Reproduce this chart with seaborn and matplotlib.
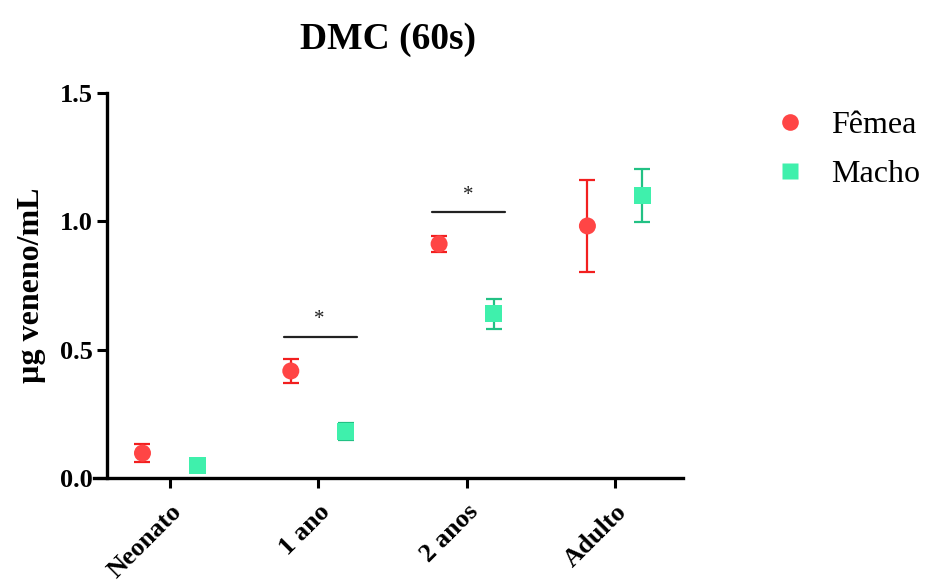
import matplotlib
matplotlib.use("Agg")
import matplotlib.pyplot as plt
import seaborn as sns
import pandas as pd
from matplotlib.lines import Line2D

sns.set_style("ticks")
plt.rcParams["font.family"] = ["Liberation Serif", "DejaVu Serif"]
plt.rcParams["text.color"] = "black"
plt.rcParams["axes.labelcolor"] = "black"
plt.rcParams["xtick.color"] = "black"
plt.rcParams["ytick.color"] = "black"

# Data: mean venom concentration ± SEM per age group
categories = ["Neonato", "1 ano", "2 anos", "Adulto"]
femea_mean = [0.097, 0.417, 0.912, 0.982]
femea_err = [0.036, 0.045, 0.032, 0.180]
macho_mean = [0.050, 0.180, 0.639, 1.100]
macho_err = [0.010, 0.033, 0.057, 0.103]
groups = ["Fêmea", "Macho"]
sig_pairs = ["1 ano", "2 anos"]

fem_color = "#FF4545"
fem_err_color = "#F21F1F"
mac_color = "#3FF0AC"
mac_err_color = "#22C184"
offset = 0.185

rows = []
for i, c in enumerate(categories):
    rows.append({"pos": i - offset, "value": femea_mean[i], "err": femea_err[i], "sexo": groups[0]})
    rows.append({"pos": i + offset, "value": macho_mean[i], "err": macho_err[i], "sexo": groups[1]})
df = pd.DataFrame(rows)

fig = plt.figure(figsize=(9.26, 5.86), dpi=100)
ax = fig.add_axes([0.1015, 0.1843, 0.636, 0.657])

# error bars drawn under the markers
for g, ecol in zip(groups, [fem_err_color, mac_err_color]):
    sub = df[df["sexo"] == g]
    ax.errorbar(sub["pos"], sub["value"], yerr=sub["err"], fmt="none",
                ecolor=ecol, elinewidth=1.6, capsize=6, capthick=1.6, zorder=2)

sns.scatterplot(data=df, x="pos", y="value", hue="sexo", style="sexo",
                palette={groups[0]: fem_color, groups[1]: mac_color},
                markers={groups[0]: "o", groups[1]: "s"},
                s=150, linewidth=0, legend=False, ax=ax, zorder=3)

# axis styling (spine offset first, it resets the tick formatting)
for side in ["top", "right"]:
    ax.spines[side].set_visible(False)
ax.spines["left"].set_position(("axes", 0.022))
for side in ["left", "bottom"]:
    ax.spines[side].set_linewidth(2.4)
    ax.spines[side].set_color("black")

ax.set_xlim(-0.512, 3.459)
ax.set_ylim(0, 1.5)
ax.set_xticks(range(len(categories)))
ax.set_xticklabels(categories, rotation=45, ha="right", rotation_mode="anchor",
                   fontsize=19, fontweight="bold", color="black")
ax.set_yticks([0.0, 0.5, 1.0, 1.5])
ax.set_yticklabels(["0.0", "0.5", "1.0", "1.5"], fontsize=19, fontweight="bold",
                   color="black")
ax.tick_params(axis="both", width=2.2, length=7, color="black", pad=3)
ax.tick_params(axis="x", pad=9)
ax.set_xlabel("")
ax.set_ylabel("µg veneno/mL", fontsize=23, fontweight="bold", labelpad=10,
              color="black")
ax.set_title("DMC (60s)", fontsize=27, fontweight="bold", pad=32, color="black")

# significance markers
sig_heights = [0.55, 1.035]
for name, h in zip(sig_pairs, sig_heights):
    i = categories.index(name)
    ax.plot([i - 0.23, i + 0.26], [h, h], color="#222222", lw=1.6, zorder=2)
    ax.text(i + 0.01, h + 0.03, "*", ha="center", va="bottom", fontsize=15, color="#222222")

handles = [
    Line2D([], [], marker="o", color="none", markerfacecolor=fem_color,
           markeredgecolor="none", markersize=12, label=groups[0]),
    Line2D([], [], marker="s", color="none", markerfacecolor=mac_color,
           markeredgecolor="none", markersize=11, label=groups[1]),
]
leg = fig.legend(handles=handles, loc="upper left", bbox_to_anchor=(0.803, 0.86),
                 frameon=False, fontsize=23, handletextpad=0.75, labelspacing=0.62,
                 handlelength=1.1)
for t in leg.get_texts():
    t.set_color("black")

fig.savefig("out.png", dpi=100)
